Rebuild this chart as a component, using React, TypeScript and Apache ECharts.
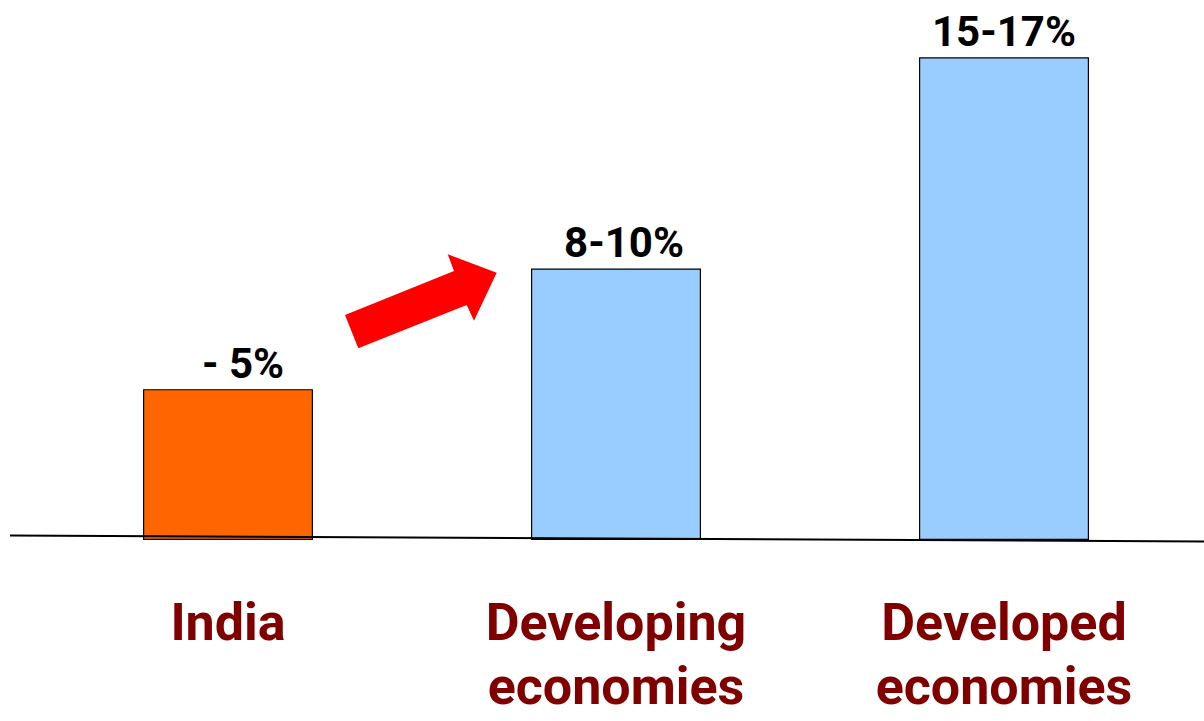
import React, { useEffect, useRef } from "react";
import * as echarts from "echarts";

const categories = ["India", "Developing\neconomies", "Developed\neconomies"];
const values = [5, 9, 16];
const valueLabels = ["- 5%", "8-10%", "15-17%"];
const barColors = ["#FF6600", "#99CCFF", "#99CCFF"];
const labelOffsets = [[15, 0], [8, 0], [0, 0]];

const FONT = "Roboto, 'Liberation Sans', sans-serif";

export default function App() {
  const ref = useRef<HTMLDivElement>(null);
  useEffect(() => {
    if (!ref.current) return;
    const chart = echarts.init(ref.current, undefined, { renderer: "svg" });
    chart.setOption({
      animation: false,
      backgroundColor: "#ffffff",
      grid: { left: 34, right: 6, top: 0, bottom: 181, containLabel: false, outerBoundsMode: "none" },
      xAxis: {
        type: "category",
        data: categories,
        axisLine: { show: false },
        axisTick: { show: false },
        axisLabel: {
          show: true,
          interval: 0,
          margin: 50,
          verticalAlign: "top",
          color: "#800000",
          fontFamily: FONT,
          fontSize: 52,
          fontWeight: "bold",
          lineHeight: 64,
        },
      },
      yAxis: {
        type: "value",
        min: 0,
        max: 17.9,
        show: false,
        splitLine: { show: false },
      },
      series: [
        {
          type: "bar",
          barWidth: 170,
          data: values.map((v, i) => ({
            value: v,
            itemStyle: { color: barColors[i], borderColor: "#000000", borderWidth: 1.2 },
            label: {
              show: true,
              position: "top",
              distance: 5,
              offset: labelOffsets[i],
              formatter: valueLabels[i],
              color: "#000000",
              fontFamily: FONT,
              fontSize: 42,
              fontWeight: "bold",
            },
          })),
        },
      ],
      graphic: [
        {
          type: "line",
          z: 100,
          shape: { x1: 10, y1: 535.5, x2: 1204, y2: 541.5 },
          style: { stroke: "#000000", lineWidth: 2 },
        },
        {
          type: "polygon",
          z: 100,
          shape: {
            points: [
              [345, 315],
              [454, 271],
              [447.7, 254.3],
              [496.7, 272.7],
              [474, 320.7],
              [466.7, 305],
              [358.3, 348.3],
            ],
          },
          style: { fill: "#FF0000", stroke: "none" },
        },
      ],
    });
    return () => chart.dispose();
  }, []);
  return (
    <div
      ref={ref}
      style={{ position: "fixed", left: 0, top: 0, width: 1204, height: 721, background: "#fff" }}
    />
  );
}
